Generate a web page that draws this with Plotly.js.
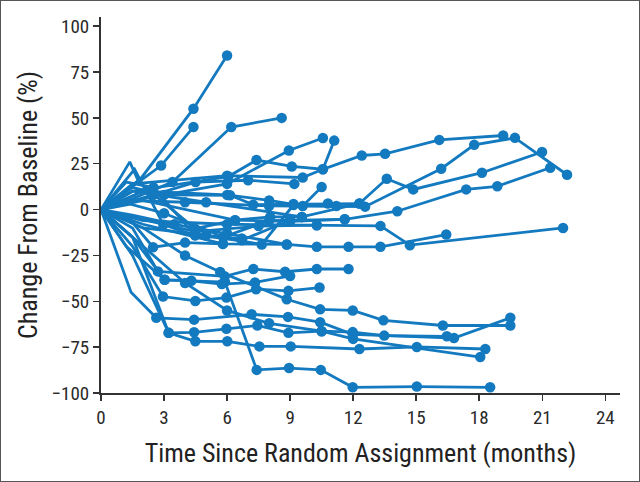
<!DOCTYPE html>
<html>
<head>
<meta charset="utf-8">
<script src="https://cdn.plot.ly/plotly-3.0.1.min.js"></script>
<style>
  html, body { margin: 0; padding: 0; background: #fff; }
  #wrap { position: relative; width: 640px; height: 482px; }
  #chart { width: 640px; height: 482px; }
  #frame { position: absolute; left: 0; top: 0; width: 638px; height: 480px; border: 1px solid #555; pointer-events: none; }
</style>
</head>
<body>
<div id="wrap"><div id="chart"></div><div id="frame"></div></div>
<script>
// Time since random assignment (months) for each patient
const timePoints = [
  [0,1.9,4.4,6],
  [0,2.86,4.4],
  [0,1.5,3.4,6.2,8.6],
  [0,1.5,6.06,7.4,9.08,10.56,12.41,13.52,16.1,19.14],
  [0,2,6,8.94,10.56],
  [0,1.5,6,9.6,10.56,11.1],
  [0,1.2,4,8,12.57,16.19,17.76,19.7,22.18],
  [0,1.5,5,9.56,12.3,13.6,14.86,18.13,20.99],
  [0,2,6.38,9,11.6,14.1,17.38,18.86,21.38],
  [0,2,6,10.27,13.3,14.7,21.99],
  [0,2,5.8,8.84,10.27,11.78,13.3,16.43],
  [0,2,6,8,9.6,10.5],
  [0,2,5,7.65,9.16,11.2],
  [0,1.37,1.8,4.48,6.38,8.05,9.56],
  [0,1.6,2.97,4.48,5.82,6.7],
  [0,1.2,2.48,4,5.8],
  [0,1.5,2.71,5.89,7.25,8.76,10.27,11.78],
  [0,1.5,3.03,4.3,5.75,7.33,9],
  [0,1.5,2.95,4.49,5.97,7.38,8.92,10.4],
  [0,2,4,5.67,8.84,10.43,11.98,13.44,16.27,19.48],
  [0,1.5,3.22,4.43,5.97,7.44,8.92,10.5,11.98,13.48,16.46],
  [0,1.43,2.63,4.43,7.17,8.9,10.43,11.98,16.8,19.48],
  [0,2,4,6,8,10.5,12,18.05],
  [0,1.5,3.22,4.49,6.01,7.54,9.03,12.3,15.03,18.29],
  [0,1.2,3.03,5.9,7.41,8.95,10.46,11.98,15.03,18.52],
  [0,1.5,3,6.14,7.24,9.16,10.8,12.3],
  [0,1.5,3.5,6,8.84],
  [0,1.2,2.5,4.48,6.7,9],
  [0,2.5,4.5,7,9.2],
  [0,1.8,4.5,7.5,10.27],
  [0,1.4,3,5.82,8,11.6]
];
// Change from baseline (%) for each patient
const changes = [
  [0,17,55,84],
  [0,24,45],
  [0,6,15,45,50],
  [0,10,18,27,23.5,22,29.5,30.4,38,40.4],
  [0,6,14,32.2,39],
  [0,14,18.5,17.5,22,37.6],
  [0,5,4,2,1.6,22.3,35.3,39.1,19],
  [0,10,4,-4,3.3,16.8,11,20.1,31.4],
  [0,5,-5.8,-6.4,-5.3,-0.9,11,12.7,22.8],
  [0,-6,-8,-8.5,-8.9,-19.4,-10],
  [0,-8,-18.7,-19,-20.3,-20.3,-20.3,-13.6],
  [0,10,8,5,2,12.3],
  [0,-10,-14,-19,2.5,2],
  [0,26,15,-10.4,-5.8,-4,-4],
  [0,22,-8.2,-14,-15,-15.8],
  [0,-3,-20.5,-18,-18.7],
  [0,-10,-33.7,-36.4,-32.4,-33.9,-32.4,-32.4],
  [0,-15,-38.3,-38.8,-40.6,-39.7,-36.2],
  [0,-20,-47.4,-49.8,-48,-43.4,-44.3,-42.5],
  [0,-10,-25,-34,-48.9,-54.4,-55,-60.4,-63.2,-63.2],
  [0,-25,-67.2,-66.9,-65,-63.2,-67.2,-66.3,-66.8,-68.7,-69.1],
  [0,-45,-59,-60,-57.1,-58.5,-61.4,-68,-70,-59],
  [0,-20,-40,-55,-62,-66.3,-70.5,-80.4],
  [0,-15,-67.2,-71.8,-71.8,-74.6,-74.6,-76,-74.9,-76],
  [0,-20,-38.3,-39.5,-87.4,-86.4,-87.4,-96.9,-96.5,-96.9],
  [0,12,8,7.8,2.7,3,3.3,3.3],
  [0,-3,-8,-13,-19],
  [0,15,12,-14,-16.7,-5.8],
  [0,8,15,16,14],
  [0,-5,-12,-9,-8.5],
  [0,3,-2,-15,-6,-5.3]
];
const xTicks = [0,3,6,9,12,15,18,21,24];
const yTicks = [-100,-75,-50,-25,0,25,50,75,100];

const blue = 'rgb(20,122,192)';
const traces = timePoints.map((xs, i) => ({
  type: 'scatter',
  mode: 'lines+markers',
  x: xs,
  y: changes[i],
  line: { color: blue, width: 2.8 },
  marker: { color: blue, opacity: 1, line: { width: 0 }, size: xs.map(t => (t < 2.4 ? 0 : 10.5)) },
  cliponaxis: false,
  showlegend: false,
  hoverinfo: 'skip'
}));

const fam = 'Liberation Sans Narrow, Arial Narrow, Roboto Condensed, Liberation Sans, sans-serif';
const tickFont = { family: fam, size: 19, color: '#2a2a2a' };
const titleFont = { family: fam, size: 26, color: '#222' };

const layout = {
  width: 640, height: 482,
  margin: { l: 101, r: 20, t: 17, b: 89 },
  paper_bgcolor: '#fff', plot_bgcolor: '#fff',
  showlegend: false,
  xaxis: {
    range: [0, 24.7],
    tickvals: xTicks, ticktext: xTicks.map(String),
    ticks: 'outside', ticklen: 6, tickwidth: 1.5, tickcolor: '#333',
    showline: true, linecolor: '#333', linewidth: 2,
    showgrid: false, zeroline: false,
    tickfont: tickFont,
    title: { text: 'Time Since Random Assignment (months)', font: titleFont, standoff: 16 }
  },
  yaxis: {
    range: [-100, 105],
    tickvals: yTicks,
    ticks: 'outside', ticklen: 6, tickwidth: 1.5, tickcolor: '#333',
    showline: true, linecolor: '#333', linewidth: 2,
    showgrid: false, zeroline: false,
    tickfont: tickFont,
    title: { text: 'Change From Baseline (%)', font: titleFont, standoff: 6 }
  }
};

Plotly.newPlot('chart', traces, layout, { staticPlot: true, displayModeBar: false });
</script>
</body>
</html>
